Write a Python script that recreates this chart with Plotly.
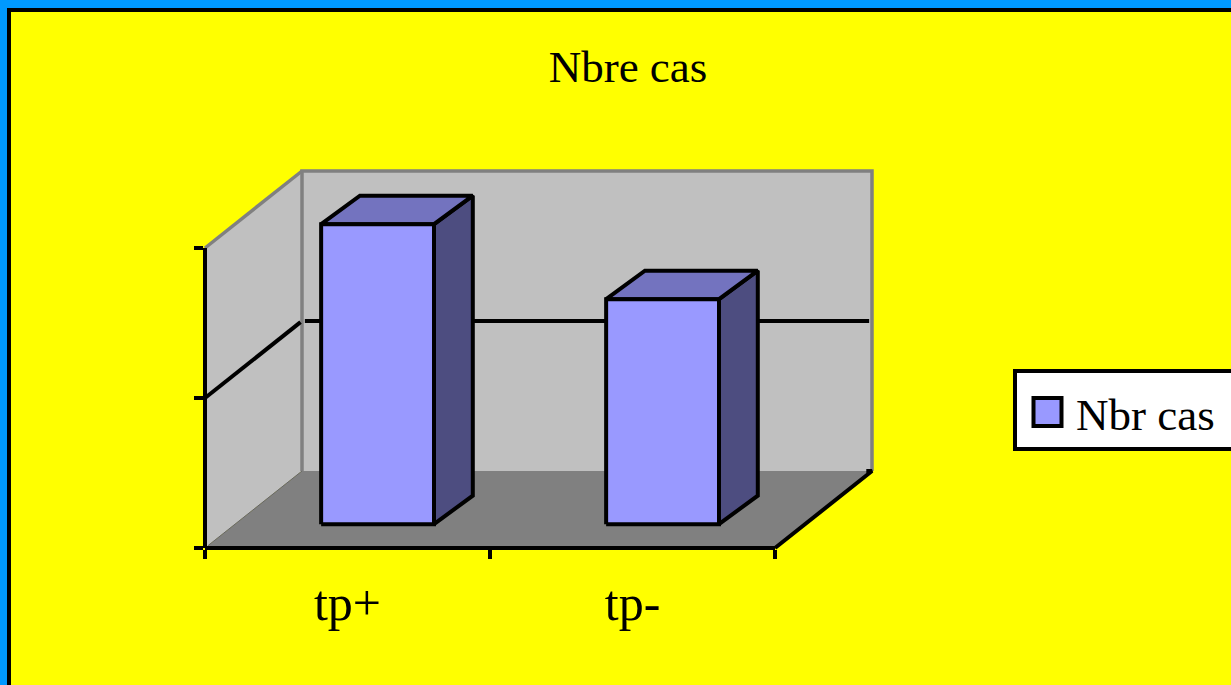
import plotly.graph_objects as go

categories = ["tp+", "tp-"]
values = [20, 15]
series_name = "Nbr cas"
y_ticks = [0, 10, 20]
cat_edges = [0, 1, 2]
y_top = 20

W = 1231
H = 685
#pixel position of the front axes, everything else hangs off these
x0_px, x2_px = 205, 775
y0_px, ytop_px = 548, 248
px_x = (x2_px - x0_px) / 2
px_y = (y0_px - ytop_px) / y_top
#full floor depth in axis units
depth_x = 97 / px_x
depth_y = 77 / px_y
bar_width = 0.396
bar_front = 0.31
bar_back = 0.71
bar_back_y = 0.68
lw = 4


def proj(x, y, d, dy=None):
    return x + d * depth_x, y + (d if dy is None else dy) * depth_y


def poly(points, fill, line=None, width=lw):
    xs = [p[0] for p in points]
    ys = [p[1] for p in points]
    if fill:
        return go.Scatter(x=xs, y=ys, mode="lines", fill="toself", fillcolor=fill,
                          line=dict(color=line or fill, width=width if line else 0),
                          showlegend=False, hoverinfo="skip")
    return go.Scatter(x=xs, y=ys, mode="lines", line=dict(color=line, width=width),
                      showlegend=False, hoverinfo="skip")


fig = go.Figure()

#walls and floor
fig.add_trace(poly([proj(0, 0, 1), proj(2, 0, 1), proj(2, y_top, 1), proj(0, y_top, 1)], "#c0c0c0"))
fig.add_trace(poly([proj(0, 0, 0), proj(0, y_top, 0), proj(0, y_top, 1), proj(0, 0, 1)], "#c0c0c0"))
fig.add_trace(poly([proj(0, 0, 0), proj(2, 0, 0), proj(2, 0, 1), proj(0, 0, 1)], "#808080"))
fig.add_trace(poly([proj(0, 0, 1), proj(0, y_top, 1), proj(2, y_top, 1), proj(2, 0, 1)], None, "#808080", 3.5))
fig.add_trace(poly([proj(0, y_top, 0), proj(0, y_top, 1)], None, "#808080", 3.5))
fig.add_trace(poly([proj(0, 0, 0.03), proj(0, 0, 1)], None, "#666666", 1))
fig.add_trace(poly([proj(2, 0, 0), proj(2, 0, 1), proj(1.98, 0, 1)], None, "black"))

#gridline
for t in y_ticks[1:-1]:
    fig.add_trace(poly([proj(0, t, 0), proj(0, t, 0.985)], None, "black"))
    fig.add_trace(poly([proj(0.01, t, 1), proj(1.99, t, 1)], None, "black"))

#bars
for i, v in enumerate(values):
    l = i + 0.5 - bar_width / 2
    r = i + 0.5 + bar_width / 2
    fl = proj(l, v, bar_front)
    fr = proj(r, v, bar_front)
    bl = proj(l, v, bar_back, bar_back_y)
    br = proj(r, v, bar_back, bar_back_y)
    fig.add_trace(poly([proj(r, 0, bar_front), proj(r, 0, bar_back, bar_back_y), br, fr, proj(r, 0, bar_front)], "#4d4d80", "black"))
    fig.add_trace(poly([fl, fr, br, bl, fl], "#7373bf", "black"))
    fig.add_trace(poly([proj(l, 0, bar_front), proj(r, 0, bar_front), fr, fl, proj(l, 0, bar_front)], "#9999ff", "black"))

#empty trace so the front axes get drawn
fig.add_trace(go.Scatter(x=[0.5, 1.5], y=values, xaxis="x2", yaxis="y2", mode="none",
                         showlegend=False, hoverinfo="skip"))

font = "Liberation Serif"
fig.update_layout(
    width=W, height=H, autosize=False,
    margin=dict(l=0, r=0, t=0, b=0),
    paper_bgcolor="#0099ff", plot_bgcolor="rgba(0,0,0,0)",
    font=dict(family=font, color="black"),
    showlegend=False,
    title=dict(text="Nbre cas", x=628 / W, y=1 - 66 / H, xanchor="center", yanchor="middle",
               font=dict(family=font, size=45, color="black")),
    xaxis=dict(visible=False, domain=[0, 1],
               range=[-x0_px / px_x, (W - x0_px) / px_x]),
    yaxis=dict(visible=False, domain=[0, 1],
               range=[-(H - y0_px) / px_y, y0_px / px_y]),
    #free position puts the 4px axis lines centred on the front edges
    xaxis2=dict(domain=[x0_px / W, x2_px / W], anchor="free", position=(H - y0_px) / H,
                range=[0, 2], showgrid=False,
                zeroline=False, showline=True, linecolor="black", linewidth=4,
                tickmode="array", tickvals=[0.5, 1.5], ticktext=categories, ticks="",
                ticklabelstandoff=10, tickfont=dict(family=font, size=50, color="black"),
                minor=dict(tickmode="array", tickvals=cat_edges, ticks="outside", ticklen=9,
                           tickwidth=4, tickcolor="black", showgrid=False)),
    yaxis2=dict(domain=[(H - y0_px) / H, (H - ytop_px) / H], anchor="free", position=x0_px / W,
                range=[0, y_top],
                showgrid=False, zeroline=False, showline=True, linecolor="black", linewidth=4,
                tickmode="array", tickvals=y_ticks, showticklabels=False, ticks="outside",
                ticklen=9, tickwidth=4, tickcolor="black"),
    shapes=[
        #slide frame
        dict(type="rect", xref="paper", yref="paper", layer="below", x0=7 / W, x1=1.1,
             y0=-0.1, y1=1 - 8 / H, fillcolor="black", line=dict(width=0)),
        dict(type="rect", xref="paper", yref="paper", layer="below", x0=11 / W, x1=1.1,
             y0=-0.1, y1=1 - 12 / H, fillcolor="#ffff00", line=dict(width=0)),
        #legend box and swatch
        dict(type="rect", xref="paper", yref="paper", x0=1015 / W, x1=1.05,
             y0=1 - 449 / H, y1=1 - 371 / H, fillcolor="white", line=dict(color="black", width=4)),
        dict(type="rect", xref="paper", yref="paper", x0=1033.5 / W, x1=1061.5 / W,
             y0=1 - 426 / H, y1=1 - 398 / H, fillcolor="#9999ff", line=dict(color="black", width=4)),
    ],
    annotations=[
        dict(text=series_name, xref="paper", yref="paper", x=1074 / W, y=1 - 415 / H,
             xanchor="left", yanchor="middle", showarrow=False,
             font=dict(family=font, size=45, color="black")),
    ],
)

#page has a default body margin that would push the chart off by 8px
fig.write_html("out.html", config=dict(displayModeBar=False),
               post_script="document.body.style.margin='0';")
